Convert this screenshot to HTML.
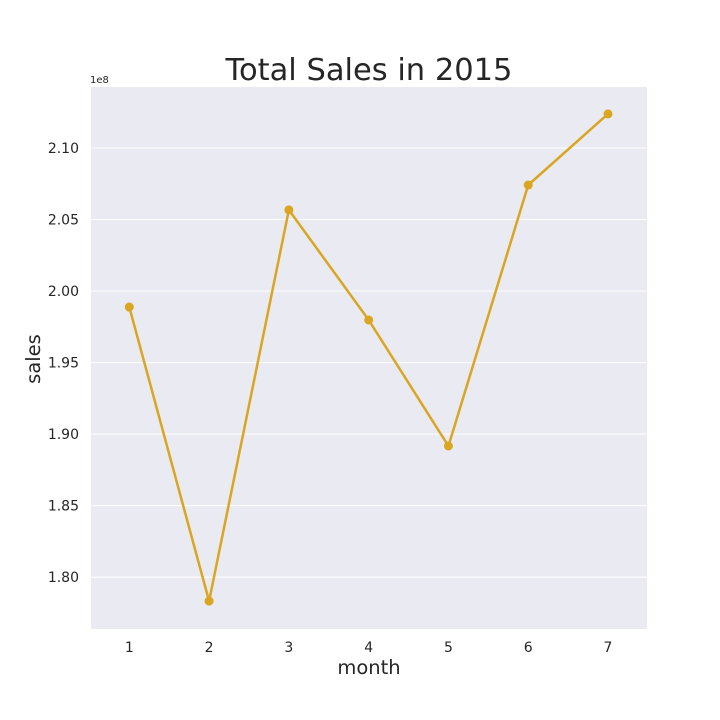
<!DOCTYPE html>
<html><head><meta charset="utf-8"><style>
body{margin:0;background:#fff;}
svg{display:block;font-family:"DejaVu Sans","Liberation Sans",sans-serif;}
</style></head><body>
<svg id="chart" width="720" height="720">
<rect x="0" y="0" width="720" height="720" fill="#fff"/>
<rect x="91" y="87" width="556" height="542" fill="#eaeaf2"/>
<g id="grid"></g>
<g id="ticks"></g>
<g id="series"></g>
<text x="369" y="80" font-size="30.5" text-anchor="middle" fill="#262626">Total Sales in 2015</text>
<text x="369" y="674" font-size="19.5" text-anchor="middle" fill="#262626">month</text>
<text x="40" y="359" font-size="19.5" text-anchor="middle" fill="#262626" transform="rotate(-90 40 359)">sales</text>
<text x="90" y="83" font-size="10" fill="#262626">1e8</text>
</svg>
<script>
const months = [1,2,3,4,5,6,7];
const sales = [1.9888,1.7833,2.0567,1.9798,1.8917,2.0741,2.1238];
const yTicks = [1.80,1.85,1.90,1.95,2.00,2.05,2.10];
const yTickLabels = ["1.80","1.85","1.90","1.95","2.00","2.05","2.10"];
const NS="http://www.w3.org/2000/svg";
const L=91,R=647,T=87,B=629,yMin=1.7638,yMax=2.1426;
const xs=i=>129.3+i*(608-129.3)/(months.length-1);
const ys=v=>B-(v-yMin)/(yMax-yMin)*(B-T);
function mk(tag,a,parent){const e=document.createElementNS(NS,tag);for(const k in a)e.setAttribute(k,a[k]);parent.appendChild(e);return e;}
const grid=document.getElementById('grid'),ticks=document.getElementById('ticks'),ser=document.getElementById('series');
yTicks.forEach((v,i)=>{
 const g=mk('line',{x1:L,x2:R,y1:ys(v),y2:ys(v),stroke:'#fff','stroke-width':1},grid);
 
 
 const t=mk('text',{x:79,y:ys(v)+5,'font-size':14,'text-anchor':'end',fill:'#262626'},ticks);
 t.textContent=yTickLabels[i];
 
 
});
months.forEach((m,i)=>{
 const t=mk('text',{x:xs(i),y:652,'font-size':14,'text-anchor':'middle',fill:'#262626'},ticks);
 t.textContent=m;
 
 
});
const pts=sales.map((v,i)=>xs(i)+','+ys(v)).join(' ');
const pl=mk('polyline',{points:pts,fill:'none',stroke:'#daa520','stroke-width':2.5},ser);


sales.forEach((v,i)=>{
 const c=mk('circle',{cx:xs(i),cy:ys(v),r:4.5,fill:'#daa520'},ser);
 
 
});
</script>
</body></html>
